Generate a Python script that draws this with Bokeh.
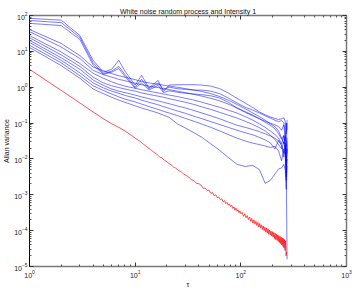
import numpy as np
from bokeh.plotting import figure
from bokeh.models import FixedTicker, LogAxis, CustomJSTickFormatter
from bokeh.embed import file_html
from bokeh.resources import INLINE

title_text = "White noise random process and Intensity 1"
x_label = "τ"
y_label = "Allan variance"

# averaging times (tau) of the blue curves
tau_blue = [1, 2, 3, 4, 5, 6, 7, 8, 10, 11.5, 13.5, 16.5, 18.5, 21, 25, 30, 36, 43, 52, 63,
            76, 92, 110, 130, 150, 170, 190, 210, 228, 243, 255, 263, 269, 274]

# blue curves, read as decade exponents (log10 of the Allan variance)
blue_exp_1 = [1.92, 1.87, 1.44, 0.75, 0.42, 0.50, 0.75, 0.45, 0.06, 0.33, -0.02, 0.19, -0.12, 0.06, 0.07, 0.07, 0.07, 0.06, 0.03, -0.04,
              -0.16, -0.31, -0.44, -0.57, -0.69, -0.77, -0.83, -0.87, -0.90, -0.88, -0.85, -0.95, -1.30, -0.92]
blue_exp_2 = [1.86, 1.80, 1.39, 0.68, 0.38, 0.45, 0.58, 0.36, 0.00, 0.22, -0.05, 0.12, -0.06, 0.00, -0.04, -0.06, -0.08, -0.08, -0.11, -0.18,
              -0.30, -0.44, -0.56, -0.64, -0.72, -0.80, -0.86, -0.92, -0.96, -0.93, -0.99, -1.25, -1.65, -1.00]
blue_exp_3 = [1.78, 1.72, 1.33, 0.62, 0.36, 0.42, 0.52, 0.30, -0.03, 0.12, -0.08, 0.05, -0.15, -0.10, -0.14, -0.17, -0.19, -0.21, -0.24, -0.30,
              -0.42, -0.58, -0.68, -0.78, -0.88, -0.98, -1.06, -1.16, -1.30, -1.45, -1.35, -1.60, -2.20, -1.50]
blue_exp_4 = [1.61, 1.22, 0.88, 0.56, 0.46, 0.38, 0.32, 0.28, 0.21, 0.16, 0.12, 0.08, 0.06, 0.03, 0.00, -0.04, -0.08, -0.12, -0.18, -0.26,
              -0.36, -0.48, -0.60, -0.72, -0.82, -0.92, -1.02, -1.10, -1.22, -1.42, -1.58, -1.35, -1.85, -1.40]
blue_exp_5 = [1.55, 1.12, 0.80, 0.47, 0.35, 0.28, 0.22, 0.18, 0.11, 0.07, 0.03, -0.01, -0.04, -0.07, -0.11, -0.15, -0.20, -0.25, -0.31, -0.38,
              -0.47, -0.58, -0.70, -0.80, -0.88, -0.95, -1.00, -1.05, -1.10, -1.20, -1.05, -1.50, -1.00, -1.20]
blue_exp_6 = [1.44, 0.98, 0.66, 0.39, 0.25, 0.15, 0.08, 0.03, -0.03, -0.07, -0.11, -0.16, -0.19, -0.22, -0.26, -0.31, -0.36, -0.42, -0.49, -0.56,
              -0.64, -0.72, -0.82, -0.92, -1.02, -1.12, -1.22, -1.32, -1.42, -1.58, -1.35, -1.75, -2.50, -1.60]
blue_exp_7 = [1.38, 0.90, 0.58, 0.28, 0.12, 0.04, -0.01, -0.05, -0.11, -0.16, -0.20, -0.25, -0.28, -0.32, -0.37, -0.42, -0.48, -0.55, -0.62, -0.70,
              -0.78, -0.86, -0.95, -1.04, -1.13, -1.22, -1.33, -1.46, -1.60, -1.72, -1.52, -1.65, -2.05, -1.72]
blue_exp_8 = [1.31, 0.82, 0.50, 0.20, 0.05, -0.05, -0.11, -0.15, -0.22, -0.27, -0.32, -0.38, -0.42, -0.46, -0.52, -0.58, -0.65, -0.72, -0.80, -0.88,
              -0.97, -1.06, -1.12, -1.18, -1.24, -1.30, -1.36, -1.42, -1.50, -1.62, -1.85, -1.55, -2.30, -4.80]
blue_exp_9 = [1.25, 0.75, 0.40, 0.12, -0.02, -0.11, -0.17, -0.23, -0.30, -0.36, -0.42, -0.49, -0.54, -0.59, -0.66, -0.73, -0.81, -0.88, -0.96, -1.04,
              -1.12, -1.20, -1.27, -1.33, -1.40, -1.47, -1.55, -1.72, -1.48, -1.62, -1.95, -1.62, -2.40, -1.70]
blue_exp_10 = [1.17, 0.68, 0.32, 0.04, -0.09, -0.19, -0.27, -0.33, -0.41, -0.47, -0.54, -0.62, -0.67, -0.72, -0.79, -0.87, -0.95, -1.03, -1.12, -1.22,
               -1.32, -1.42, -1.50, -1.56, -1.60, -1.64, -1.68, -1.65, -1.78, -2.05, -1.72, -1.90, -2.60, -2.00]
blue_exp_11 = [1.11, 0.60, 0.25, -0.05, -0.18, -0.28, -0.36, -0.42, -0.52, -0.58, -0.64, -0.72, -0.78, -0.84, -1.02, -1.14, -1.27, -1.40, -1.58, -1.76,
               -1.96, -2.15, -2.21, -2.18, -2.30, -2.68, -2.60, -2.42, -2.28, -2.25, -2.15, -2.30, -2.85, -2.20]

blue_series = [blue_exp_1, blue_exp_2, blue_exp_3, blue_exp_4, blue_exp_5, blue_exp_6,
               blue_exp_7, blue_exp_8, blue_exp_9, blue_exp_10, blue_exp_11]

# averaging times of the red curve
tau_red = list(range(1, 31)) + list(range(32, 101, 2)) + list(range(103, 272, 3))

# red curve, read as decade exponents
red_exp = [0.50, -0.09, -0.44, -0.69, -0.88, -1.02, -1.12, -1.22, -1.32, -1.42,
           -1.50, -1.59, -1.67, -1.74, -1.81, -1.87, -1.94, -1.98, -2.04, -2.08,
           -2.13, -2.17, -2.22, -2.25, -2.29, -2.33, -2.35, -2.39, -2.43, -2.45,
           -2.50, -2.58, -2.60, -2.68, -2.69, -2.73, -2.82, -2.81, -2.88, -2.87,
           -2.96, -2.94, -3.03, -3.00, -3.08, -3.06, -3.14, -3.11, -3.19, -3.16,
           -3.25, -3.21, -3.29, -3.25, -3.33, -3.29, -3.38, -3.34, -3.43, -3.37,
           -3.46, -3.42, -3.50, -3.45, -3.53,
           -3.49, -3.60, -3.53, -3.64, -3.58, -3.69, -3.62, -3.74, -3.66, -3.79,
           -3.70, -3.82, -3.74, -3.86, -3.77, -3.90, -3.80, -3.93, -3.84, -3.97,
           -3.87, -4.00, -3.90, -4.04, -3.93, -4.07, -3.95, -4.10, -3.98, -4.12,
           -4.01, -4.15, -4.03, -4.18, -4.05, -4.22, -4.07, -4.25, -4.10, -4.27,
           -4.12, -4.30, -4.14, -4.33, -4.16, -4.36, -4.18, -4.40, -4.20, -4.44,
           -4.22, -4.48, -4.25, -4.55, -4.28, -4.70, -4.60]

x_major = [1, 10, 100, 1000]
y_major = [1e-5, 1e-4, 1e-3, 1e-2, 1e-1, 1, 10, 100]

FONT = "Liberation Sans"

p = figure(width=354, height=290, x_axis_type="log", y_axis_type="log",
           x_range=(1, 1000), y_range=(1e-5, 1e2),
           output_backend="svg", toolbar_location=None,
           min_border_left=29, min_border_right=8, min_border_top=15, min_border_bottom=23)
p.background_fill_color = "white"
p.border_fill_color = "white"
p.outline_line_color = None
p.xgrid.visible = False
p.ygrid.visible = False

p.title.text = title_text
p.title.text_font = FONT
p.title.text_font_size = "7px"
p.title.text_font_style = "normal"
p.title.text_color = "#111111"
p.title.align = "center"
p.title.standoff = 2

x_minor = [k * d for d in [1, 10, 100] for k in range(2, 10)]
y_minor = [k * d for d in [1e-5, 1e-4, 1e-3, 1e-2, 1e-1, 1, 10] for k in range(2, 10)]


def style_axis(ax, ticks, minor, color, width, labels=True):
    ax.ticker = FixedTicker(ticks=ticks, minor_ticks=minor)
    ax.axis_line_color = color
    ax.axis_line_width = width
    ax.major_tick_in = 4
    ax.major_tick_out = 0
    ax.minor_tick_in = 2
    ax.minor_tick_out = 0
    ax.major_tick_line_color = "#333333"
    ax.minor_tick_line_color = "#555555"
    if labels:
        ax.major_label_text_font = FONT
        ax.major_label_text_font_size = "7px"
        ax.major_label_text_color = "#222222"
        ax.major_label_text_line_height = 1.0
        ax.major_label_standoff = 2
        ax.axis_label_text_font = FONT
        ax.axis_label_text_font_size = "7px"
        ax.axis_label_text_font_style = "normal"
        ax.axis_label_text_color = "#111111"
        ax.axis_label_text_line_height = 1.0
        ax.axis_label_standoff = 1
    else:
        ax.formatter = CustomJSTickFormatter(code="return ' ';")
        ax.major_label_text_font_size = "1px"
        ax.major_label_text_alpha = 0
        ax.major_label_standoff = 0


xax = p.xaxis[0]
style_axis(xax, x_major, x_minor, "#7a7a7a", 1.5)
xax.axis_label = x_label
xax.major_label_standoff = 3
xax.axis_label_standoff = 0
yax = p.yaxis[0]
style_axis(yax, y_major, y_minor, "black", 1)
yax.axis_label = y_label

top_ax = LogAxis()
style_axis(top_ax, x_major, x_minor, "#7a7a7a", 1.5, labels=False)
p.add_layout(top_ax, "above")
right_ax = LogAxis()
style_axis(right_ax, y_major, y_minor, "#7a7a7a", 1.5, labels=False)
p.add_layout(right_ax, "right")

for s in blue_series:
    p.line(tau_blue, 10 ** np.array(s), line_color="#0000ff", line_width=0.8, line_alpha=0.65)
p.line(tau_red, 10 ** np.array(red_exp), line_color="#ff0000", line_width=0.8, line_alpha=0.85)

open("out.html", "w").write(file_html(p, INLINE))
